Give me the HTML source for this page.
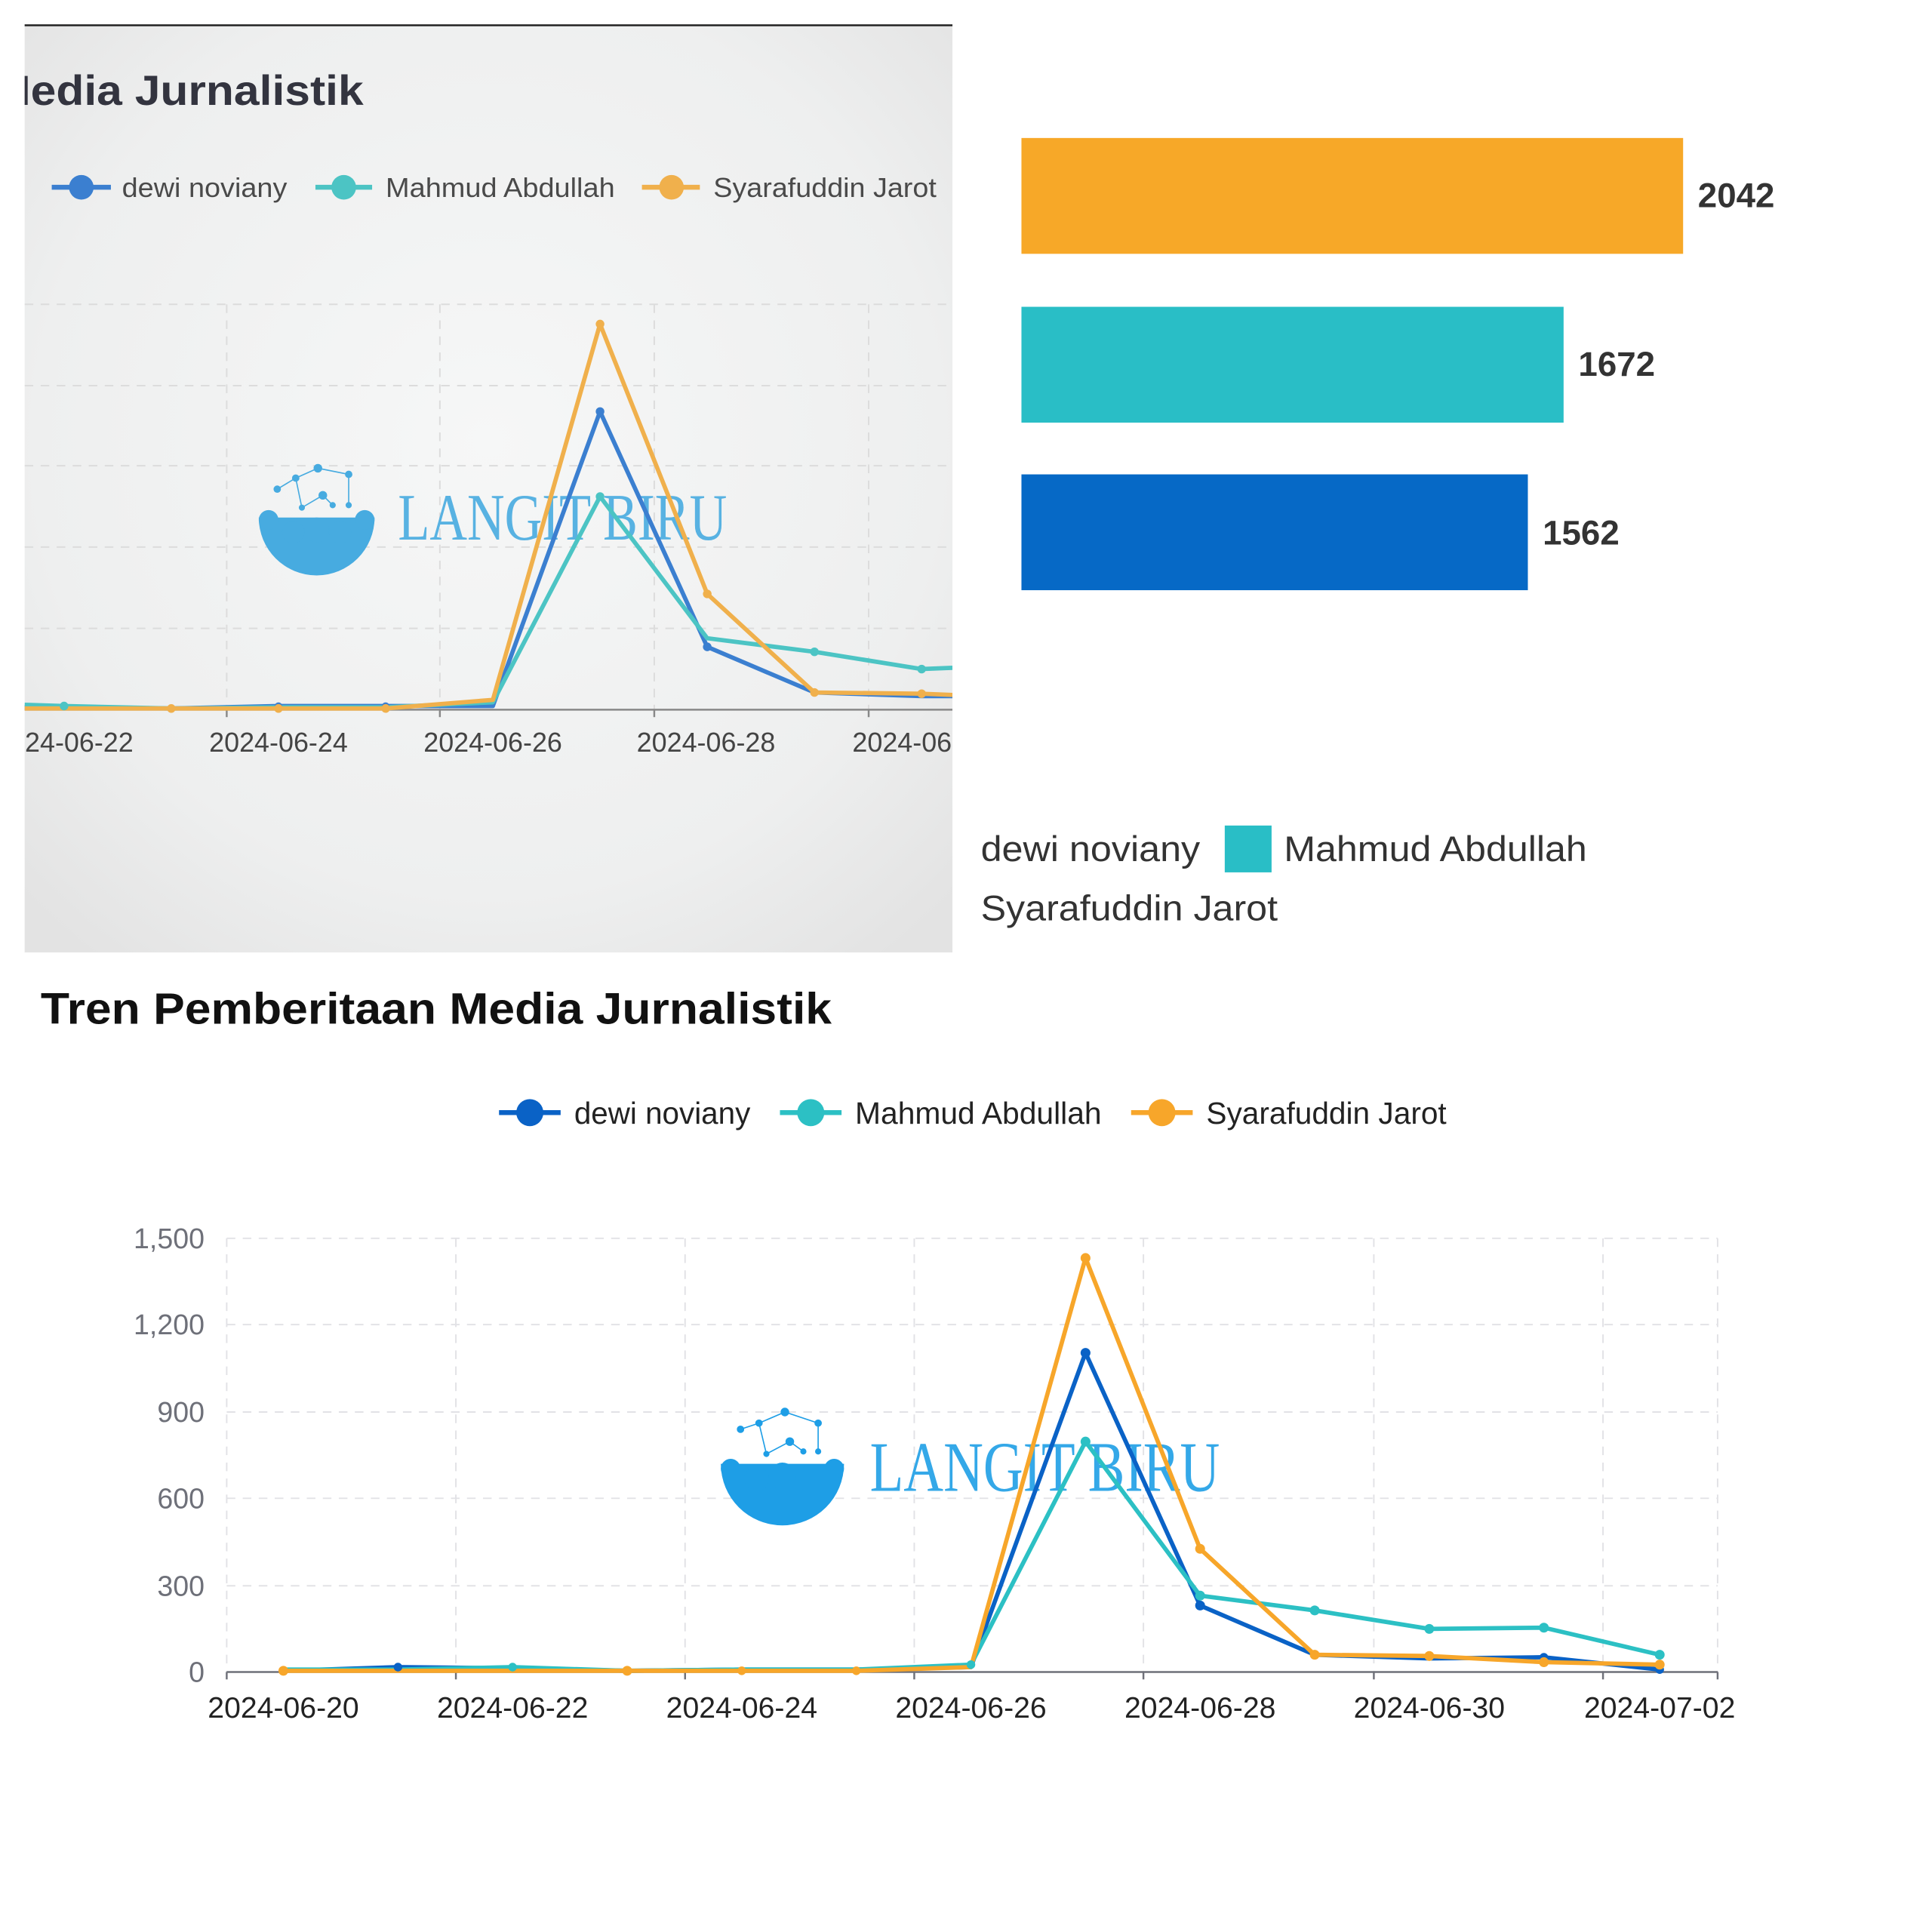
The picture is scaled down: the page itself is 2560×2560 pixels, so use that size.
<!DOCTYPE html>
<html><head><meta charset="utf-8"><style>
html,body{margin:0;padding:0;background:#fff;}
svg{display:block;}
.s{font-family:"Liberation Sans",sans-serif;}
.sf{font-family:"Liberation Serif",serif;}
</style></head><body>
<svg width="2560" height="2560" viewBox="0 0 1568 1568" xmlns="http://www.w3.org/2000/svg" class="s">
<defs>
<radialGradient id="bg" cx="0.5" cy="0.45" r="0.7">
<stop offset="0" stop-color="#f6f7f7"/><stop offset="0.7" stop-color="#eeefef"/><stop offset="1" stop-color="#e3e3e3"/>
</radialGradient>
<clipPath id="cp"><rect x="20" y="20" width="753" height="753"/></clipPath>
</defs>
<rect width="1568" height="1568" fill="#fff"/>
<rect x="20" y="20" width="753" height="753" fill="url(#bg)"/>
<line x1="20" y1="20.5" x2="773" y2="20.5" stroke="#222" stroke-width="1.5"/>
<g clip-path="url(#cp)">
<text class="s" x="-6" y="85" font-size="34" font-weight="bold" fill="#33343f" textLength="301" lengthAdjust="spacingAndGlyphs">Media Jurnalistik</text>
<g font-size="22" fill="#4a4a4a" class="s">
<line x1="42" y1="152" x2="90" y2="152" stroke="#3b7fd0" stroke-width="4"/><circle cx="66" cy="152" r="10" fill="#3b7fd0"/><text x="99" y="160" textLength="134" lengthAdjust="spacingAndGlyphs">dewi noviany</text>
<line x1="256" y1="152" x2="302" y2="152" stroke="#4cc4c4" stroke-width="4"/><circle cx="279" cy="152" r="10" fill="#4cc4c4"/><text x="313" y="160" textLength="186" lengthAdjust="spacingAndGlyphs">Mahmud Abdullah</text>
<line x1="521" y1="152" x2="568" y2="152" stroke="#f0b04c" stroke-width="4"/><circle cx="545" cy="152" r="10" fill="#f0b04c"/><text x="579" y="160" textLength="181" lengthAdjust="spacingAndGlyphs">Syarafuddin Jarot</text>
</g>
<g stroke="#dcdcdc" stroke-width="1.2" stroke-dasharray="7,6">
<line x1="20" y1="247" x2="773" y2="247"/><line x1="20" y1="313" x2="773" y2="313"/><line x1="20" y1="378" x2="773" y2="378"/><line x1="20" y1="444" x2="773" y2="444"/><line x1="20" y1="510" x2="773" y2="510"/>
<line x1="184" y1="247" x2="184" y2="576"/><line x1="357" y1="247" x2="357" y2="576"/><line x1="531" y1="247" x2="531" y2="576"/><line x1="705" y1="247" x2="705" y2="576"/>
</g>
<line x1="20" y1="576" x2="773" y2="576" stroke="#888" stroke-width="1.5"/>
<g stroke="#888" stroke-width="1.5"><line x1="184" y1="576" x2="184" y2="582"/><line x1="357" y1="576" x2="357" y2="582"/><line x1="531" y1="576" x2="531" y2="582"/><line x1="705" y1="576" x2="705" y2="582"/></g>
<g font-size="22" fill="#444" text-anchor="middle" class="s">
<text x="52" y="610">2024-06-22</text><text x="226" y="610">2024-06-24</text><text x="400" y="610">2024-06-26</text><text x="573" y="610">2024-06-28</text><text x="748" y="610">2024-06-30</text>
</g>
<g fill="#47abe0">
<path d="M210,420 A47,47 0 0 0 304,420 Z"/>
<circle cx="218" cy="422" r="8"/><circle cx="296" cy="422" r="8"/><circle cx="238" cy="432" r="9"/><circle cx="257" cy="430" r="10"/><circle cx="276" cy="432" r="9"/>
<g stroke="#47abe0" stroke-width="1" fill="#47abe0"><circle cx="225" cy="397" r="2.5"/><circle cx="240" cy="388" r="2.5"/><circle cx="258" cy="380" r="3"/><circle cx="283" cy="385" r="2.5"/><circle cx="262" cy="402" r="3"/><circle cx="245" cy="412" r="2"/><circle cx="270" cy="410" r="2"/><circle cx="283" cy="410" r="2"/>
<polyline points="225,397 240,388 258,380 283,385 283,410" fill="none"/><polyline points="240,388 245,412 262,402 270,410" fill="none"/></g>
</g>
<text class="sf" x="323" y="438" font-size="54" fill="#47abe0" fill-opacity="0.9" textLength="267" lengthAdjust="spacingAndGlyphs">LANGIT BIRU</text>
<g fill="none" stroke-width="3.5" stroke-linejoin="round">
<polyline stroke="#3b7fd0" points="20,574 52,574 139,575 226,573 313,573 400,573 487,334 574,525 661,562 748,565 773,565"/>
<polyline stroke="#4cc4c4" points="20,572 52,573 139,575 226,574 313,574 400,570 487,403 574,518 661,529 748,543 773,542"/>
<polyline stroke="#f0b04c" points="20,575 52,575 139,575 226,575 313,575 400,568 487,263 574,482 661,562 748,563 773,564"/>
</g>
<g fill="#3b7fd0"><circle cx="487" cy="334" r="3.5"/><circle cx="574" cy="525" r="3.5"/><circle cx="226" cy="573" r="3"/><circle cx="313" cy="573" r="3"/></g>
<g fill="#4cc4c4"><circle cx="52" cy="573" r="3.5"/><circle cx="487" cy="403" r="3.5"/><circle cx="661" cy="529" r="3.5"/><circle cx="748" cy="543" r="3.5"/></g>
<g fill="#f0b04c"><circle cx="139" cy="575" r="3.5"/><circle cx="226" cy="575" r="3.5"/><circle cx="313" cy="575" r="3.5"/><circle cx="487" cy="263" r="3.5"/><circle cx="574" cy="482" r="3.5"/><circle cx="661" cy="562" r="3.5"/><circle cx="748" cy="563" r="3.5"/></g>
</g>
<rect x="829" y="112" width="537" height="94" fill="#f7a828"/>
<rect x="829" y="249" width="440" height="94" fill="#29bec6"/>
<rect x="829" y="385" width="411" height="94" fill="#0669c6"/>
<g font-size="28" font-weight="bold" fill="#333" class="s">
<text x="1378" y="168">2042</text><text x="1281" y="305">1672</text><text x="1252" y="442">1562</text>
</g>
<g font-size="29" fill="#333" class="s">
<text x="796" y="699" textLength="178" lengthAdjust="spacingAndGlyphs">dewi noviany</text>
<rect x="994" y="670" width="38" height="38" fill="#29bec6"/>
<text x="1042" y="699" textLength="246" lengthAdjust="spacingAndGlyphs">Mahmud Abdullah</text>
<text x="796" y="747" textLength="241" lengthAdjust="spacingAndGlyphs">Syarafuddin Jarot</text>
</g>
<text class="s" x="33" y="831" font-size="36" font-weight="bold" fill="#111" textLength="642" lengthAdjust="spacingAndGlyphs">Tren Pemberitaan Media Jurnalistik</text>
<g font-size="25" fill="#222" class="s">
<line x1="405" y1="903" x2="455" y2="903" stroke="#0a62c6" stroke-width="4"/><circle cx="430" cy="903" r="11" fill="#0a62c6"/><text x="466" y="912" textLength="143" lengthAdjust="spacingAndGlyphs">dewi noviany</text>
<line x1="633" y1="903" x2="683" y2="903" stroke="#2cc0c4" stroke-width="4"/><circle cx="658" cy="903" r="11" fill="#2cc0c4"/><text x="694" y="912" textLength="200" lengthAdjust="spacingAndGlyphs">Mahmud Abdullah</text>
<line x1="918" y1="903" x2="968" y2="903" stroke="#f7a62a" stroke-width="4"/><circle cx="943" cy="903" r="11" fill="#f7a62a"/><text x="979" y="912" textLength="195" lengthAdjust="spacingAndGlyphs">Syarafuddin Jarot</text>
</g>
<g stroke="#e2e2e6" stroke-width="1.2" stroke-dasharray="7,6">
<line x1="184" y1="1005" x2="1394" y2="1005"/><line x1="184" y1="1075" x2="1394" y2="1075"/><line x1="184" y1="1146" x2="1394" y2="1146"/><line x1="184" y1="1216" x2="1394" y2="1216"/><line x1="184" y1="1287" x2="1394" y2="1287"/>
<line x1="184" y1="1005" x2="184" y2="1357"/><line x1="370" y1="1005" x2="370" y2="1357"/><line x1="556" y1="1005" x2="556" y2="1357"/><line x1="742" y1="1005" x2="742" y2="1357"/><line x1="928" y1="1005" x2="928" y2="1357"/><line x1="1115" y1="1005" x2="1115" y2="1357"/><line x1="1301" y1="1005" x2="1301" y2="1357"/><line x1="1394" y1="1005" x2="1394" y2="1357"/>
</g>
<line x1="184" y1="1357" x2="1394" y2="1357" stroke="#6e7079" stroke-width="1.5"/>
<g stroke="#6e7079" stroke-width="1.5"><line x1="184" y1="1357" x2="184" y2="1363"/><line x1="370" y1="1357" x2="370" y2="1363"/><line x1="556" y1="1357" x2="556" y2="1363"/><line x1="742" y1="1357" x2="742" y2="1363"/><line x1="928" y1="1357" x2="928" y2="1363"/><line x1="1115" y1="1357" x2="1115" y2="1363"/><line x1="1301" y1="1357" x2="1301" y2="1363"/><line x1="1394" y1="1357" x2="1394" y2="1363"/></g>
<g font-size="23" fill="#6e7079" text-anchor="end" class="s">
<text x="166" y="1013">1,500</text><text x="166" y="1083">1,200</text><text x="166" y="1154">900</text><text x="166" y="1224">600</text><text x="166" y="1295">300</text><text x="166" y="1365">0</text>
</g>
<g font-size="24" fill="#222" text-anchor="middle" class="s">
<text x="230" y="1394">2024-06-20</text><text x="416" y="1394">2024-06-22</text><text x="602" y="1394">2024-06-24</text><text x="788" y="1394">2024-06-26</text><text x="974" y="1394">2024-06-28</text><text x="1160" y="1394">2024-06-30</text><text x="1347" y="1394">2024-07-02</text>
</g>
<g fill="#1e9ee6">
<path d="M585,1188 A50,50 0 0 0 685,1188 Z"/>
<circle cx="593" cy="1192" r="8"/><circle cx="677" cy="1192" r="8"/><circle cx="614" cy="1200" r="10"/><circle cx="635" cy="1198" r="11"/><circle cx="656" cy="1200" r="10"/>
<g stroke="#1e9ee6" stroke-width="1" fill="#1e9ee6"><circle cx="601" cy="1160" r="2.5"/><circle cx="616" cy="1155" r="2.5"/><circle cx="637" cy="1146" r="3"/><circle cx="664" cy="1155" r="2.5"/><circle cx="641" cy="1170" r="3"/><circle cx="622" cy="1180" r="2"/><circle cx="652" cy="1178" r="2"/><circle cx="664" cy="1178" r="2"/>
<polyline points="601,1160 616,1155 637,1146 664,1155 664,1178" fill="none"/><polyline points="616,1155 622,1180 641,1170 652,1178" fill="none"/></g>
</g>
<text class="sf" x="706" y="1210" font-size="58" fill="#1e9ee6" fill-opacity="0.9" textLength="284" lengthAdjust="spacingAndGlyphs">LANGIT BIRU</text>
<g fill="none" stroke-width="3.5" stroke-linejoin="round">
<polyline stroke="#0a62c6" points="230,1356 323,1353 416,1354 509,1356 602,1355 695,1355 788,1353 881,1098 974,1303 1067,1343 1160,1346 1253,1345 1347,1355"/>
<polyline stroke="#2cc0c4" points="230,1355 323,1355 416,1353 509,1356 602,1355 695,1355 788,1351 881,1170 974,1295 1067,1307 1160,1322 1253,1321 1347,1343"/>
<polyline stroke="#f7a62a" points="230,1356 323,1356 416,1356 509,1356 602,1356 695,1356 788,1353 881,1021 974,1257 1067,1343 1160,1344 1253,1349 1347,1351"/>
</g>
<g fill="#0a62c6"><circle cx="881" cy="1098" r="4"/><circle cx="974" cy="1303" r="4"/><circle cx="323" cy="1353" r="3.5"/><circle cx="1253" cy="1345" r="3.5"/><circle cx="1347" cy="1355" r="3.5"/></g>
<g fill="#2cc0c4"><circle cx="881" cy="1170" r="4"/><circle cx="974" cy="1295" r="4"/><circle cx="1067" cy="1307" r="4"/><circle cx="1160" cy="1322" r="4"/><circle cx="1253" cy="1321" r="4"/><circle cx="1347" cy="1343" r="4"/><circle cx="788" cy="1351" r="3.5"/><circle cx="416" cy="1353" r="3.5"/></g>
<g fill="#f7a62a"><circle cx="230" cy="1356" r="4"/><circle cx="509" cy="1356" r="4"/><circle cx="602" cy="1356" r="3.5"/><circle cx="695" cy="1356" r="3.5"/><circle cx="881" cy="1021" r="4"/><circle cx="974" cy="1257" r="4"/><circle cx="1067" cy="1343" r="4"/><circle cx="1160" cy="1344" r="4"/><circle cx="1253" cy="1349" r="4"/><circle cx="1347" cy="1351" r="4"/></g>
</svg>
</body></html>
